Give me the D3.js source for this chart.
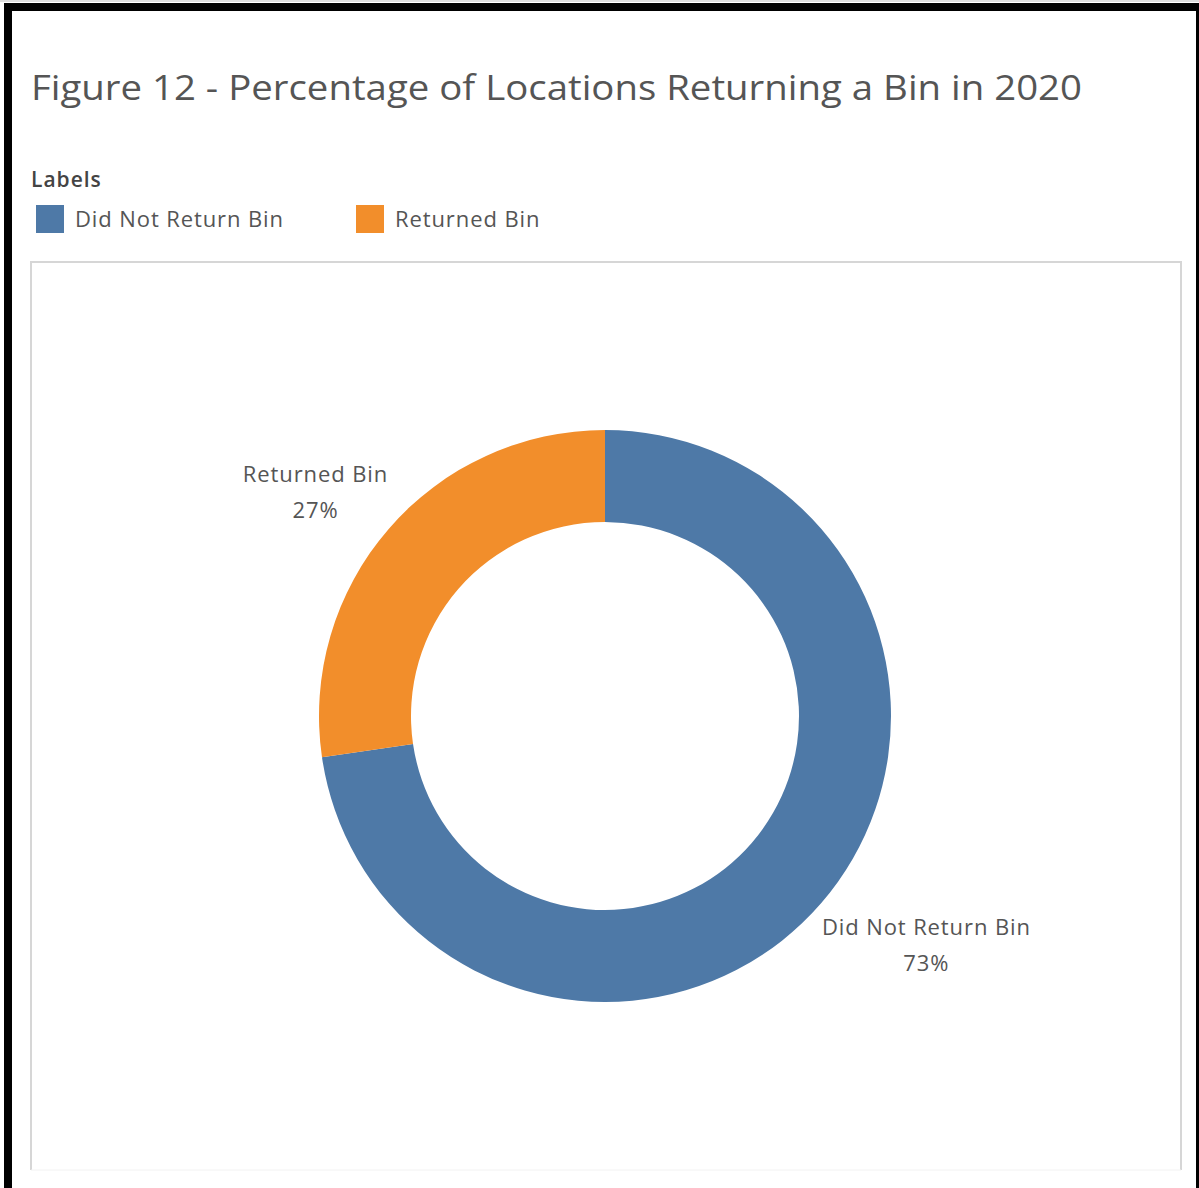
<!DOCTYPE html>
<html>
<head>
    <meta charset="UTF-8">
    <title>Figure 12</title>
    <style>
        body { margin: 0; background: #fff; }
        text { font-family: "Open Sans", Lato, sans-serif; }
    </style>
</head>
<body>
    <script src="https://d3js.org/d3.v7.min.js"></script>
    <script type="text/javascript">
        // data
        var categories = ["Did Not Return Bin", "Returned Bin"];
        var shares = [0.727, 0.273];
        var colors = ["#4e79a7", "#f28e2b"];

        var width = 1199, height = 1188;
        var svg = d3.select("body").append("svg")
            .attr("width", width)
            .attr("height", height);

        // outer frame (cropped screenshot border)
        svg.append("line").attr("x1", 0).attr("x2", width).attr("y1", 1).attr("y2", 1)
            .attr("stroke", "#bbb").attr("stroke-width", 1);
        svg.append("rect").attr("x", 4).attr("y", 3).attr("width", width - 4).attr("height", 8).attr("fill", "#000");
        svg.append("rect").attr("x", 4).attr("y", 3).attr("width", 8).attr("height", height - 3).attr("fill", "#000");
        svg.append("rect").attr("x", 1196).attr("y", 3).attr("width", 3).attr("height", height - 3).attr("fill", "#000");

        // title, fitted to the width it has in the original
        var title = svg.append("text")
            .attr("x", 31).attr("y", 100)
            .attr("font-size", 35)
            .attr("fill", "#555")
            .text("Figure 12 - Percentage of Locations Returning a Bin in 2020");
        var tw = title.node().getComputedTextLength();
        if (Math.abs(tw - 1051) > 8) title.attr("textLength", 1051).attr("lengthAdjust", "spacingAndGlyphs");

        // legend
        svg.append("text")
            .attr("x", 31).attr("y", 187)
            .attr("font-size", 21)
            .attr("font-weight", 600)
            .attr("letter-spacing", 1)
            .attr("fill", "#444")
            .text("Labels");

        var legendX = d3.scalePoint().domain(categories).range([36, 356]);
        var lg = svg.selectAll("g.legend").data(categories).enter().append("g").attr("class", "legend");
        lg.append("rect")
            .attr("x", function(d){ return legendX(d); })
            .attr("y", 205).attr("width", 28).attr("height", 28)
            .attr("fill", function(d, i){ return colors[i]; });
        lg.append("text")
            .attr("x", function(d){ return legendX(d) + 39; })
            .attr("y", 227)
            .attr("font-size", 22)
            .attr("letter-spacing", 0.9)
            .attr("fill", "#555")
            .text(function(d){ return d; });

        // panel border
        var px0 = 31, px1 = 1181, py0 = 262, py1 = 1170;
        svg.append("path")
            .attr("d", "M" + px0 + "," + py1 + "V" + py0 + "H" + px1 + "V" + py1)
            .attr("fill", "none").attr("stroke", "#d6d6d6").attr("stroke-width", 2);
        svg.append("line").attr("x1", px0).attr("x2", px1).attr("y1", py1).attr("y2", py1)
            .attr("stroke", "#f2f2f2").attr("stroke-width", 1);

        // donut
        var cx = 605, cy = 716;
        var pie = d3.pie().sort(null).value(function(d){ return d; });
        var arc = d3.arc().innerRadius(194).outerRadius(286);
        var labelArc = d3.arc().innerRadius(300).outerRadius(300);
        var g = svg.append("g").attr("transform", "translate(" + cx + "," + cy + ")");
        var arcs = pie(shares);

        g.selectAll("path.slice").data(arcs).enter().append("path")
            .attr("class", "slice")
            .attr("d", arc)
            .attr("fill", function(d, i){ return colors[i]; });

        // labels placed at the outer corner of each slice
        arcs.forEach(function(d, i){
            var p = labelArc.centroid(d);
            var mid = (d.startAngle + d.endAngle) / 2;
            var right = Math.sin(mid) > 0, below = Math.cos(mid) < 0;
            var t = g.append("text")
                .attr("font-size", 22)
                .attr("letter-spacing", 0.9)
                .attr("fill", "#555")
                .attr("text-anchor", "middle");
            var l1 = t.append("tspan").text(categories[i]);
            var w = l1.node().getComputedTextLength();
            var x = right ? p[0] - 10 + w / 2 : p[0] + 10 - w / 2;
            var y1 = below ? p[1] + 23 : p[1] - 38;
            l1.attr("x", x).attr("y", y1);
            t.append("tspan").attr("x", x).attr("y", y1 + 36)
                .text(Math.round(shares[i] * 100) + "%");
        });
    </script>
</body>
</html>
